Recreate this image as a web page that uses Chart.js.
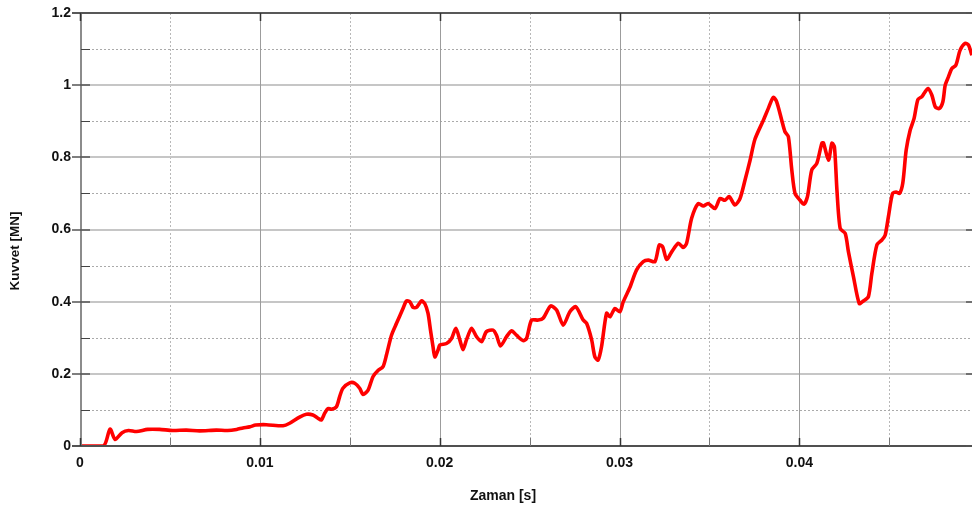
<!DOCTYPE html>
<html>
<head>
<meta charset="utf-8">
<script src="https://cdn.jsdelivr.net/npm/chart.js@4.4.1/dist/chart.umd.min.js"></script>
<style>
  html, body { margin: 0; padding: 0; background: #fff; }
  #wrap { width: 972px; height: 512px; position: relative; }
</style>
</head>
<body>
<div id="wrap"><canvas id="c" width="972" height="512"></canvas></div>
<script>
// Kuvvet–zaman eğrisi (s, MN)
const timeS = [
  0, 0.00131, 0.00167, 0.00195, 0.00234, 0.00270, 0.00314, 0.00376, 0.00442, 0.00515,
  0.00591, 0.00665, 0.00758, 0.00821, 0.00871, 0.00906, 0.00943, 0.00977, 0.01036, 0.01129,
  0.01166, 0.01221, 0.01259, 0.01295, 0.01323, 0.01342, 0.01361, 0.01379, 0.01398, 0.01426,
  0.01444, 0.01462, 0.01500, 0.01528, 0.01555, 0.01574, 0.01602, 0.01629, 0.01657, 0.01685,
  0.01704, 0.01732, 0.01760, 0.01796, 0.01815, 0.01834, 0.01852, 0.01871, 0.01899, 0.01917,
  0.01935, 0.01949, 0.01963, 0.01973, 0.01991, 0.02001, 0.02038, 0.02066, 0.02090, 0.02112,
  0.02130, 0.02149, 0.02177, 0.02205, 0.02233, 0.02260, 0.02297, 0.02316, 0.02338, 0.02372,
  0.02400, 0.02427, 0.02464, 0.02483, 0.02511, 0.02548, 0.02575, 0.02617, 0.02650, 0.02687,
  0.02724, 0.02757, 0.02798, 0.02817, 0.02845, 0.02863, 0.02881, 0.02900, 0.02928, 0.02947,
  0.02974, 0.03002, 0.03021, 0.03058, 0.03095, 0.03132, 0.03160, 0.03197, 0.03221, 0.03240,
  0.03262, 0.03290, 0.03327, 0.03354, 0.03373, 0.03401, 0.03438, 0.03466, 0.03493, 0.03531,
  0.03559, 0.03586, 0.03610, 0.03642, 0.03670, 0.03698, 0.03726, 0.03753, 0.03800, 0.03827,
  0.03855, 0.03874, 0.03902, 0.03920, 0.03939, 0.03958, 0.03976, 0.04004, 0.04026, 0.04045,
  0.04069, 0.04097, 0.04125, 0.04134, 0.04162, 0.04181, 0.04195, 0.04209, 0.04227, 0.04255,
  0.04273, 0.04301, 0.04333, 0.04356, 0.04384, 0.04403, 0.04431, 0.04459, 0.04477, 0.04495,
  0.04518, 0.04538, 0.04557, 0.04575, 0.04594, 0.04616, 0.04638, 0.04659, 0.04681, 0.04696,
  0.04715, 0.04737, 0.04756, 0.04778, 0.04798, 0.04811, 0.04829, 0.04848, 0.04870, 0.04894,
  0.04922, 0.04941, 0.04959
];
const forceMN = [
  0, 0, 0.047, 0.018, 0.037, 0.043, 0.040, 0.046, 0.046, 0.043,
  0.044, 0.042, 0.044, 0.043, 0.046, 0.050, 0.053, 0.058, 0.059, 0.056,
  0.063, 0.080, 0.088, 0.086, 0.077, 0.072, 0.091, 0.104, 0.102, 0.109,
  0.137, 0.160, 0.175, 0.174, 0.160, 0.143, 0.155, 0.192, 0.209, 0.220,
  0.252, 0.307, 0.340, 0.381, 0.402, 0.400, 0.384, 0.384, 0.402, 0.395,
  0.368, 0.321, 0.275, 0.247, 0.266, 0.280, 0.284, 0.298, 0.326, 0.294,
  0.267, 0.294, 0.326, 0.303, 0.289, 0.317, 0.321, 0.307, 0.277, 0.303,
  0.319, 0.307, 0.292, 0.298, 0.349, 0.349, 0.354, 0.388, 0.377, 0.335,
  0.372, 0.386, 0.349, 0.340, 0.294, 0.247, 0.238, 0.275, 0.368, 0.358,
  0.381, 0.372, 0.400, 0.440, 0.488, 0.511, 0.515, 0.511, 0.557, 0.552,
  0.517, 0.538, 0.562, 0.550, 0.562, 0.631, 0.672, 0.665, 0.672, 0.658,
  0.686, 0.681, 0.691, 0.668, 0.686, 0.737, 0.792, 0.850, 0.903, 0.935,
  0.966, 0.954, 0.903, 0.871, 0.857, 0.765, 0.700, 0.681, 0.670, 0.691,
  0.765, 0.783, 0.839, 0.840, 0.792, 0.839, 0.829, 0.709, 0.603, 0.589,
  0.538, 0.469, 0.395, 0.402, 0.414, 0.478, 0.557, 0.571, 0.584, 0.635,
  0.700, 0.704, 0.700, 0.728, 0.820, 0.875, 0.908, 0.960, 0.968, 0.979,
  0.991, 0.972, 0.940, 0.935, 0.954, 1.000, 1.023, 1.046, 1.055, 1.097,
  1.116, 1.111, 1.083
];

// Eksen bölmeleri
const xMajorTicks = [0, 0.01, 0.02, 0.03, 0.04];
const xTickLabels = ['0', '0.01', '0.02', '0.03', '0.04'];
const xMinorTicks = [0.005, 0.015, 0.025, 0.035, 0.045];
const yMajorTicks = [0, 0.2, 0.4, 0.6, 0.8, 1.0, 1.2];
const yTickLabels = ['0', '0.2', '0.4', '0.6', '0.8', '1', '1.2'];
const yMinorTicks = [0.1, 0.3, 0.5, 0.7, 0.9, 1.1];

const xTitle = 'Zaman [s]';
const yTitle = 'Kuvvet [MN]';

const points = timeS.map((t, i) => ({ x: t, y: forceMN[i] }));

function seg(ctx, x1, y1, x2, y2) {
  ctx.beginPath(); ctx.moveTo(x1, y1); ctx.lineTo(x2, y2); ctx.stroke();
}

// Izgara, çerçeve ve bölme çizgileri
const framePlugin = {
  id: 'frameGrid',
  beforeDatasetsDraw(chart) {
    const { ctx, chartArea: a, scales: { x, y } } = chart;
    ctx.save();
    // ara bölmeler (noktalı)
    ctx.lineWidth = 1;
    ctx.setLineDash([2, 2]);
    ctx.strokeStyle = '#b8b8b8';
    xMinorTicks.forEach(v => { const p = Math.round(x.getPixelForValue(v)) + 0.5; seg(ctx, p, a.top, p, a.bottom); });
    ctx.strokeStyle = '#aaaaaa';
    yMinorTicks.forEach(v => { const p = Math.round(y.getPixelForValue(v)) + 0.5; seg(ctx, a.left, p, a.right, p); });
    ctx.setLineDash([]);
    // ana bölmeler
    ctx.strokeStyle = '#c6c6c6';
    ctx.lineWidth = 2;
    yMajorTicks.forEach(v => { const p = Math.round(y.getPixelForValue(v)); seg(ctx, a.left, p, a.right, p); });
    ctx.strokeStyle = '#9c9c9c';
    ctx.lineWidth = 1;
    xMajorTicks.forEach(v => { const p = Math.round(x.getPixelForValue(v)) + 0.5; seg(ctx, p, a.top, p, a.bottom); });
    ctx.restore();
  },
  afterDatasetsDraw(chart) {
    const { ctx, chartArea: a, scales: { x, y } } = chart;
    ctx.save();
    // üst çerçeve
    ctx.strokeStyle = '#333333';
    ctx.lineWidth = 1.5;
    seg(ctx, 72, a.top, a.right, a.top);
    // sol eksen
    ctx.strokeStyle = '#8c8c8c';
    ctx.lineWidth = 2;
    seg(ctx, a.left + 1, a.top, a.left + 1, a.bottom + 1);
    // alt eksen
    ctx.strokeStyle = '#505050';
    ctx.lineWidth = 2;
    seg(ctx, 72, a.bottom, a.right, a.bottom);
    // y bölme işaretleri
    ctx.strokeStyle = '#555555';
    ctx.lineWidth = 1.5;
    yMajorTicks.forEach(v => { const p = Math.round(y.getPixelForValue(v)); seg(ctx, 72, p, a.left + 10, p); seg(ctx, a.right - 6, p, a.right, p); });
    ctx.lineWidth = 1;
    ctx.strokeStyle = '#444444';
    yMinorTicks.forEach(v => { const p = Math.round(y.getPixelForValue(v)) + 0.5; seg(ctx, a.left + 1, p, a.left + 10, p); });
    // x bölme işaretleri
    ctx.strokeStyle = '#333333';
    ctx.lineWidth = 1.5;
    xMajorTicks.forEach(v => { const p = Math.round(x.getPixelForValue(v)) + 0.5; seg(ctx, p, a.bottom - 8, p, a.bottom); seg(ctx, p, a.top, p, a.top + 8); });
    ctx.strokeStyle = '#777777';
    ctx.lineWidth = 1;
    xMinorTicks.forEach(v => { const p = Math.round(x.getPixelForValue(v)) + 0.5; seg(ctx, p, a.bottom - 8, p, a.bottom); });
    // eksen başlıkları
    ctx.fillStyle = '#111111';
    ctx.textAlign = 'center';
    ctx.textBaseline = 'middle';
    ctx.font = 'bold 14px "Liberation Sans", Arial, sans-serif';
    ctx.fillText(xTitle, 503, 496);
    ctx.translate(15, 251);
    ctx.rotate(-Math.PI / 2);
    ctx.font = 'bold 13.5px "Liberation Sans", Arial, sans-serif';
    ctx.fillText(yTitle, 0, 0);
    ctx.restore();
  }
};

const tickFont = { family: '"Liberation Sans", Arial, sans-serif', size: 14, weight: 'bold' };

new Chart(document.getElementById('c'), {
  type: 'line',
  data: {
    datasets: [{
      data: points,
      borderColor: '#ff0000',
      borderWidth: 3.6,
      pointRadius: 0,
      tension: 0.25,
      fill: false
    }]
  },
  options: {
    responsive: false,
    animation: false,
    events: [],
    layout: { padding: { top: 13, right: 0, left: 0, bottom: 0 } },
    plugins: { legend: { display: false }, tooltip: { enabled: false } },
    scales: {
      x: {
        type: 'linear',
        min: 0,
        max: 0.0496,
        grid: { display: false },
        border: { display: false },
        afterFit: s => { s.height = 66; },
        afterBuildTicks: s => { s.ticks = xMajorTicks.map(v => ({ value: v })); },
        ticks: {
          autoSkip: false,
          maxRotation: 0,
          padding: 1,
          color: '#111111',
          font: tickFont,
          callback: (v, i) => xTickLabels[i]
        }
      },
      y: {
        type: 'linear',
        min: 0,
        max: 1.2,
        grid: { display: false },
        border: { display: false },
        afterFit: s => { s.width = 80; },
        afterBuildTicks: s => { s.ticks = yMajorTicks.map(v => ({ value: v })); },
        ticks: {
          autoSkip: false,
          padding: 1,
          color: '#111111',
          font: tickFont,
          callback: (v, i) => yTickLabels[i]
        }
      }
    }
  },
  plugins: [framePlugin]
});
</script>
</body>
</html>
